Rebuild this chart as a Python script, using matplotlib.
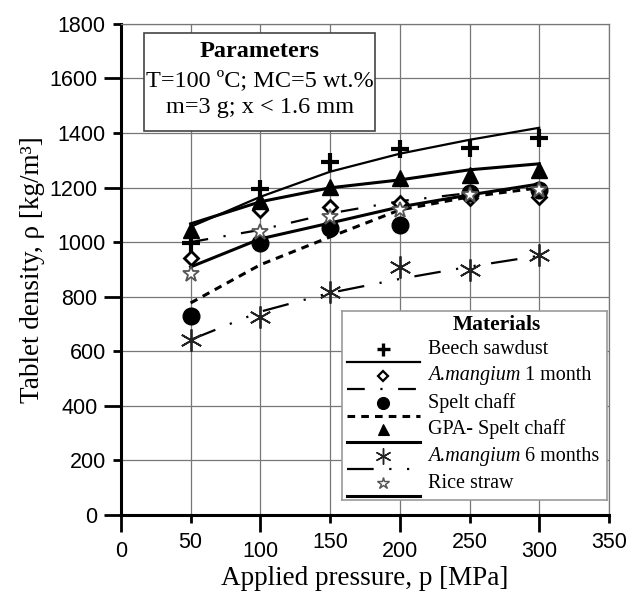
import matplotlib
matplotlib.use('Agg')
import matplotlib.pyplot as plt
from matplotlib.ticker import MultipleLocator, FixedLocator
from matplotlib.patches import Rectangle

plt.rcParams['font.family'] = ['Liberation Serif', 'DejaVu Serif']

# data
pressure = [50, 100, 150, 200, 250, 300]

beech = [997, 1195, 1294, 1342, 1345, 1382]
mangium1 = [942, 1118, 1129, 1144, 1162, 1166]
spelt = [730, 997, 1052, 1063, 1180, 1191]
gpa = [1045, 1151, 1202, 1235, 1246, 1265]
mangium6 = [642, 726, 817, 909, 898, 953]
rice = [883, 1037, 1092, 1118, 1173, 1190]

# fitted trend lines read at the same pressures
beech_fit = [1056, 1166, 1258, 1324, 1375, 1419]
mangium1_fit = [1000, 1045, 1105, 1150, 1180, 1200]
spelt_fit = [777, 917, 1019, 1118, 1166, 1199]
gpa_fit = [1067, 1148, 1199, 1228, 1265, 1287]
mangium6_fit = [642, 745, 814, 865, 910, 950]
rice_fit = [909, 1012, 1070, 1129, 1173, 1213]

labels = ['Beech sawdust', 'A.mangium 1 month', 'Spelt chaff',
          'GPA- Spelt chaff', 'A.mangium 6 months', 'Rice straw']
values = [beech, mangium1, spelt, gpa, mangium6, rice]
fits = [beech_fit, mangium1_fit, spelt_fit, gpa_fit, mangium6_fit, rice_fit]

markers = [
    dict(marker='+', ms=13, mew=3, mfc='k', mec='k'),
    dict(marker='D', ms=7, mew=2, mfc='white', mec='k'),
    dict(marker='o', ms=12, mfc='k', mec='k'),
    dict(marker='^', ms=11, mfc='k', mec='k'),
    dict(marker=(6, 2, 0), ms=16, mew=1.3, mfc='k', mec='#222222'),
    dict(marker='*', ms=12, mew=1.3, mfc='white', mec='#555555'),
]
lines = [
    dict(ls='-', lw=1.6),
    dict(ls=(0, (8, 7, 1, 7)), lw=1.6),
    dict(ls=(0, (2.5, 2)), lw=2.2),
    dict(ls='-', lw=2.2),
    dict(ls=(0, (12, 7, 1, 7, 1, 7)), lw=1.6),
    dict(ls='-', lw=2.2),
]

fig = plt.figure(figsize=(6.33, 5.96), dpi=100)
ax = fig.add_axes([0.191, 0.136, 0.771, 0.824])

for y, yf, m, l in zip(values, fits, markers, lines):
    ax.plot(pressure, yf, color='k', zorder=3, **l)
    ax.plot(pressure, y, ls='none', zorder=4, **m)

ax.set_xlim(0, 350)
ax.set_ylim(0, 1800)
ax.xaxis.set_major_locator(MultipleLocator(100))
ax.xaxis.set_minor_locator(FixedLocator([50, 150, 250, 350]))
ax.yaxis.set_major_locator(MultipleLocator(400))
ax.yaxis.set_minor_locator(FixedLocator([200, 600, 1000, 1400, 1800]))
ax.xaxis.set_minor_formatter('{x:.0f}')
ax.yaxis.set_minor_formatter('{x:.0f}')

tick_font = dict(labelfontfamily='Liberation Sans', labelsize=15.5)
ax.tick_params(which='major', direction='out', length=12, width=2, pad=5, **tick_font)
ax.tick_params(which='minor', direction='out', length=6, width=2, pad=5, **tick_font)
ax.tick_params(axis='x', which='both', pad=6.5)

ax.grid(True, which='both', color='#777777', lw=0.9)
for s in ['left', 'bottom']:
    ax.spines[s].set_linewidth(2.2)
for s in ['top', 'right']:
    ax.spines[s].set_color('#777777')
    ax.spines[s].set_linewidth(0.9)

ax.set_xlabel('Applied pressure, p [MPa]', fontsize=19.5, labelpad=3)
ax.set_ylabel('Tablet density, ρ [kg/m³]', fontsize=19.5, labelpad=3)

# parameters box
ax.add_patch(Rectangle((0.047, 0.782), 0.473, 0.2, transform=ax.transAxes,
                       fc='white', ec='#444444', lw=1.2, zorder=5))
ax.text(0.285, 0.943, 'Parameters', transform=ax.transAxes, ha='center', va='center',
        fontsize=17.5, fontweight='bold', zorder=6)
ax.text(0.285, 0.884, 'T=100 ºC; MC=5 wt.%', transform=ax.transAxes, ha='center',
        va='center', fontsize=17.5, zorder=6)
ax.text(0.285, 0.829, 'm=3 g; x < 1.6 mm', transform=ax.transAxes, ha='center',
        va='center', fontsize=17.5, zorder=6)

# materials legend drawn in its own framed axes
lg = fig.add_axes([0.540, 0.161, 0.419, 0.317])
lg.set_xlim(0, 265)
lg.set_ylim(189, 0)
lg.set_xticks([])
lg.set_yticks([])
for s in lg.spines.values():
    s.set_color('#999999')
    s.set_linewidth(1.2)
lg.text(155, 14, 'Materials', ha='center', va='center', fontsize=15.5, fontweight='bold')
for i, (lab, m, l) in enumerate(zip(labels, markers, lines)):
    ym = 38 + i * 26.8
    small = dict(m)
    small['ms'] = m['ms'] * 0.72
    small['mew'] = m.get('mew', 1) * 0.8
    lg.plot([41], [ym], ls='none', **small)
    lg.plot([5, 78], [ym + 13, ym + 13], color='k', **l)
    if lab.startswith('A.mangium'):
        t = lg.text(86, ym, 'A.mangium', style='italic', ha='left', va='center', fontsize=14.5)
        lg.annotate(lab.split('A.mangium')[1], xy=(1, 0.5), xycoords=t,
                    ha='left', va='center', fontsize=14.5)
    else:
        lg.text(86, ym, lab, ha='left', va='center', fontsize=14.5)

fig.savefig('out.png', dpi=100)
